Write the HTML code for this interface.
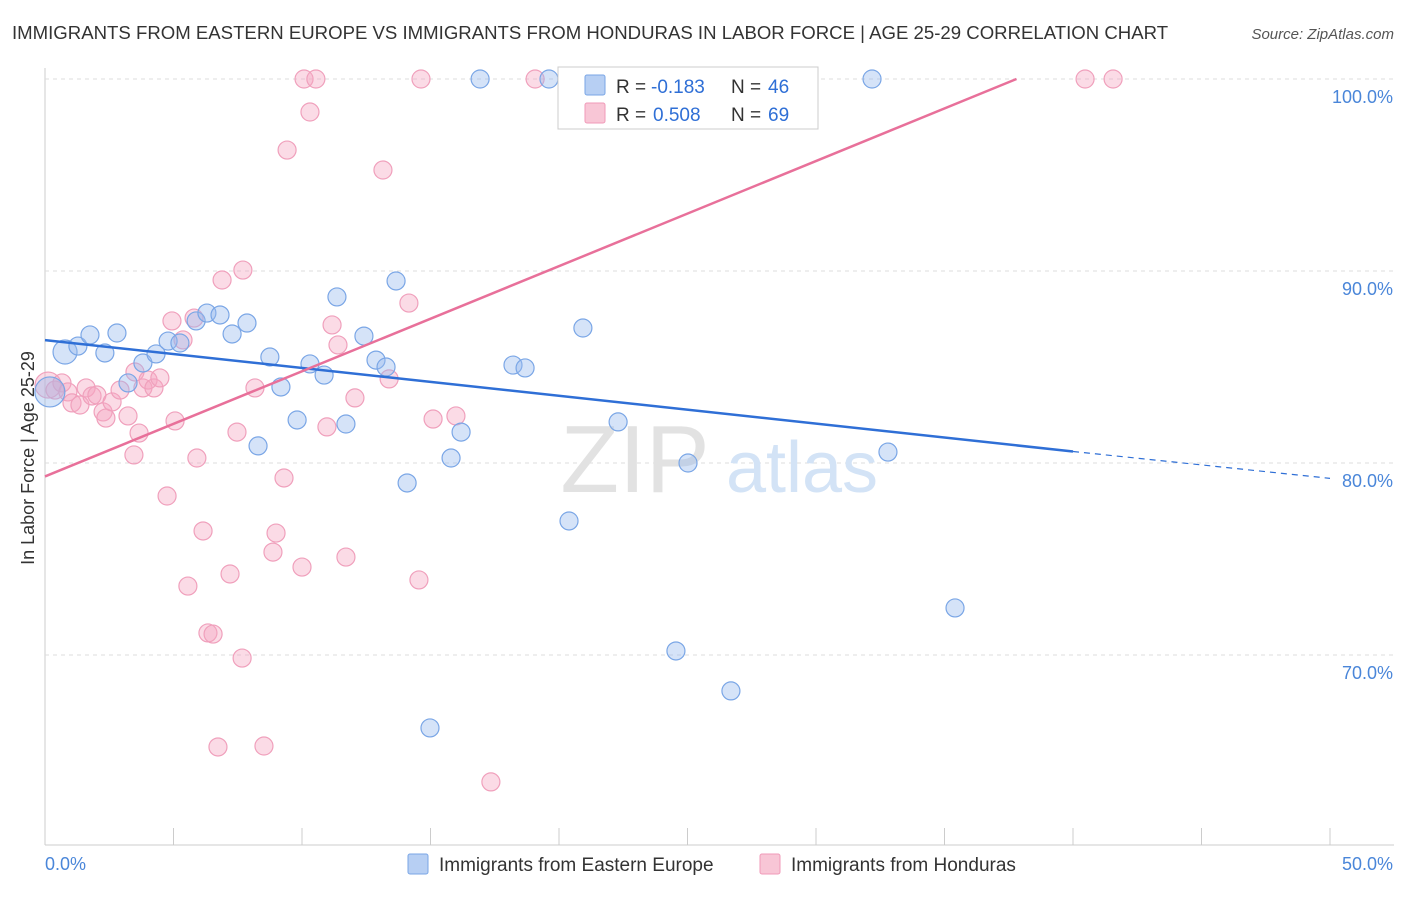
<!DOCTYPE html>
<html><head><meta charset="utf-8"><style>
body{margin:0;background:#fff;font-family:"Liberation Sans",sans-serif;}
svg text{font-family:"Liberation Sans",sans-serif;}
</style></head><body>
<svg id="chart" width="1406" height="892" xmlns="http://www.w3.org/2000/svg">
<text x="12" y="39" font-size="18.6" fill="#333">IMMIGRANTS FROM EASTERN EUROPE VS IMMIGRANTS FROM HONDURAS IN LABOR FORCE | AGE 25-29 CORRELATION CHART</text>
<text x="1394" y="39" font-size="15" fill="#555" font-style="italic" text-anchor="end">Source: ZipAtlas.com</text>
<text x="34" y="458" font-size="18" fill="#333" text-anchor="middle" transform="rotate(-90 34 458)">In Labor Force | Age 25-29</text>
<g id="grid"></g>
<text x="635" y="492" font-size="96" fill="#e2e2e2" font-family="Liberation Serif" text-anchor="middle">ZIP</text>
<text x="802" y="492" font-size="72" fill="#d3e3f6" text-anchor="middle">atlas</text>
<g id="points"></g>
<g id="lines"></g>
<g>
<rect x="558" y="67" width="260" height="62" fill="#fff" stroke="#ccc"/>
<rect x="585" y="75" width="20" height="20" fill="#b7cff3" stroke="#7aa6e6" rx="2"/>
<rect x="585" y="103" width="20" height="20" fill="#f8c6d6" stroke="#f09ab8" rx="2"/>
<text x="616" y="93" font-size="19" fill="#333">R =</text>
<text x="651" y="93" font-size="19" fill="#2f6fd6">-0.183</text>
<text x="731" y="93" font-size="19" fill="#333">N =</text>
<text x="768" y="93" font-size="19" fill="#2f6fd6">46</text>
<text x="616" y="121" font-size="19" fill="#333">R =</text>
<text x="653" y="121" font-size="19" fill="#2f6fd6">0.508</text>
<text x="731" y="121" font-size="19" fill="#333">N =</text>
<text x="768" y="121" font-size="19" fill="#2f6fd6">69</text>
</g>
<g>
<rect x="408" y="854" width="20" height="20" fill="#b7cff3" stroke="#7aa6e6" rx="2"/>
<text x="439" y="871" font-size="19" fill="#333">Immigrants from Eastern Europe</text>
<rect x="760" y="854" width="20" height="20" fill="#f8c6d6" stroke="#f09ab8" rx="2"/>
<text x="791" y="871" font-size="19" fill="#333">Immigrants from Honduras</text>
</g>
</svg>
<script>
const xTicks=[0,5,10,15,20,25,30,35,40,45,50];
const yTicks=[70,80,90,100];
const yTickLabels=["70.0%","80.0%","90.0%","100.0%"];
const blueX=[0.19,0.78,1.28,1.75,2.33,2.80,3.23,3.81,4.32,4.79,5.25,5.88,6.30,6.81,7.28,7.86,8.29,8.75,9.18,9.81,10.31,10.86,11.36,11.71,12.41,12.88,13.27,13.66,14.09,14.98,15.80,16.19,16.93,18.21,18.68,19.61,20.39,20.93,22.30,24.55,25.02,26.69,32.18,32.80,35.41];
const blueY=[83.70,85.78,86.09,86.67,85.73,86.77,84.17,85.21,85.68,86.35,86.25,87.40,87.81,87.71,86.72,87.29,80.89,85.52,83.96,82.24,85.16,84.58,88.65,82.03,86.61,85.36,85.00,89.48,78.96,66.20,80.26,81.61,100,85.10,84.95,100,76.98,87.03,82.14,70.21,80.00,68.13,100,80.57,72.45];
const blueR=[15,12,9,9,9,9,9,9,9,9,9,9,9,9,9,9,9,9,9,9,9,9,9,9,9,9,9,9,9,9,9,9,9,9,9,9,9,9,9,9,9,9,9,9,9];
const pinkX=[0.12,0.39,0.66,0.89,1.05,1.36,1.60,1.83,2.02,2.26,2.37,2.61,2.92,3.23,3.50,3.66,3.81,4.01,4.24,4.47,3.46,4.75,4.94,5.06,5.37,5.56,5.80,5.91,6.15,6.34,6.54,6.73,6.89,7.20,7.47,7.67,7.70,8.17,8.52,8.87,8.99,9.30,9.42,10.00,10.08,10.31,10.54,10.97,11.17,11.40,11.71,12.06,13.15,13.39,14.16,14.55,14.63,15.10,15.99,17.35,19.07,23.81,28.25,40.47,41.56];
const pinkY=[84.06,83.80,84.17,83.70,83.13,83.02,83.91,83.49,83.54,82.66,82.34,83.18,83.80,82.45,84.74,81.56,83.91,84.32,83.91,84.43,80.42,78.28,87.40,82.19,86.41,73.59,87.55,80.26,76.46,71.15,71.09,65.21,89.53,74.22,81.61,69.84,90.05,83.91,65.26,75.36,76.35,79.22,96.30,74.58,100,98.28,100,81.88,87.19,86.15,75.10,83.39,95.26,84.38,88.33,73.91,100,82.29,82.45,63.39,100,100,100,100,100];
const blueLine=[[0,86.4],[40,80.6],[50,79.2]];
const pinkLine=[[0,79.3],[37.8,100]];
const X=v=>45+v*25.7, Y=v=>79+(100-v)*19.2;
const NS="http://www.w3.org/2000/svg";
function mk(t,a,p){const e=document.createElementNS(NS,t);for(const k in a)e.setAttribute(k,a[k]);p.appendChild(e);return e;}
const grid=document.getElementById('grid');
mk('line',{x1:45,y1:68,x2:45,y2:845,stroke:'#ccc'},grid);
mk('line',{x1:45,y1:845,x2:1394,y2:845,stroke:'#ccc'},grid);
yTicks.forEach((t,i)=>{
 const g=mk('line',{x1:45,y1:Y(t),x2:1394,y2:Y(t),stroke:'#ddd','stroke-dasharray':'4,4'},grid);
 
 
 const l=mk('text',{x:1393,y:Y(t)+24,'font-size':18,fill:'#4a86d9','text-anchor':'end'},grid);
 l.textContent=yTickLabels[i];
 
 
});
xTicks.forEach(t=>{
 const k=mk('line',{x1:X(t),y1:828,x2:X(t),y2:845,stroke:'#ccc'},grid);
 
 
});
const xl=mk('text',{x:45,y:870,'font-size':18,fill:'#4a86d9'},grid);xl.textContent=xTicks[0].toFixed(1)+'%';


const xr=mk('text',{x:1393,y:870,'font-size':18,fill:'#4a86d9','text-anchor':'end'},grid);xr.textContent=xTicks[xTicks.length-1].toFixed(1)+'%';


const pts=document.getElementById('points');
pinkX.forEach((v,i)=>{
 const c=mk('circle',{cx:X(v),cy:Y(pinkY[i]),r:i==0?13:9,fill:'rgba(245,165,192,0.4)',stroke:'#f0a0bc','stroke-width':1.2},pts);
 
 
});
blueX.forEach((v,i)=>{
 const c=mk('circle',{cx:X(v),cy:Y(blueY[i]),r:blueR[i],fill:'rgba(150,185,238,0.4)',stroke:'#7aa6e6','stroke-width':1.2},pts);
 
 
});
const ln=document.getElementById('lines');
const b1=mk('line',{x1:X(blueLine[0][0]),y1:Y(blueLine[0][1]),x2:X(blueLine[1][0]),y2:Y(blueLine[1][1]),stroke:'#2f6fd6','stroke-width':2.5},ln);


const b2=mk('line',{x1:X(blueLine[1][0]),y1:Y(blueLine[1][1]),x2:X(blueLine[2][0]),y2:Y(blueLine[2][1]),stroke:'#2f6fd6','stroke-width':1.2,'stroke-dasharray':'6,5'},ln);


const p1=mk('line',{x1:X(pinkLine[0][0]),y1:Y(pinkLine[0][1]),x2:X(pinkLine[1][0]),y2:Y(pinkLine[1][1]),stroke:'#e8709a','stroke-width':2.5},ln);


</script>
</body></html>
